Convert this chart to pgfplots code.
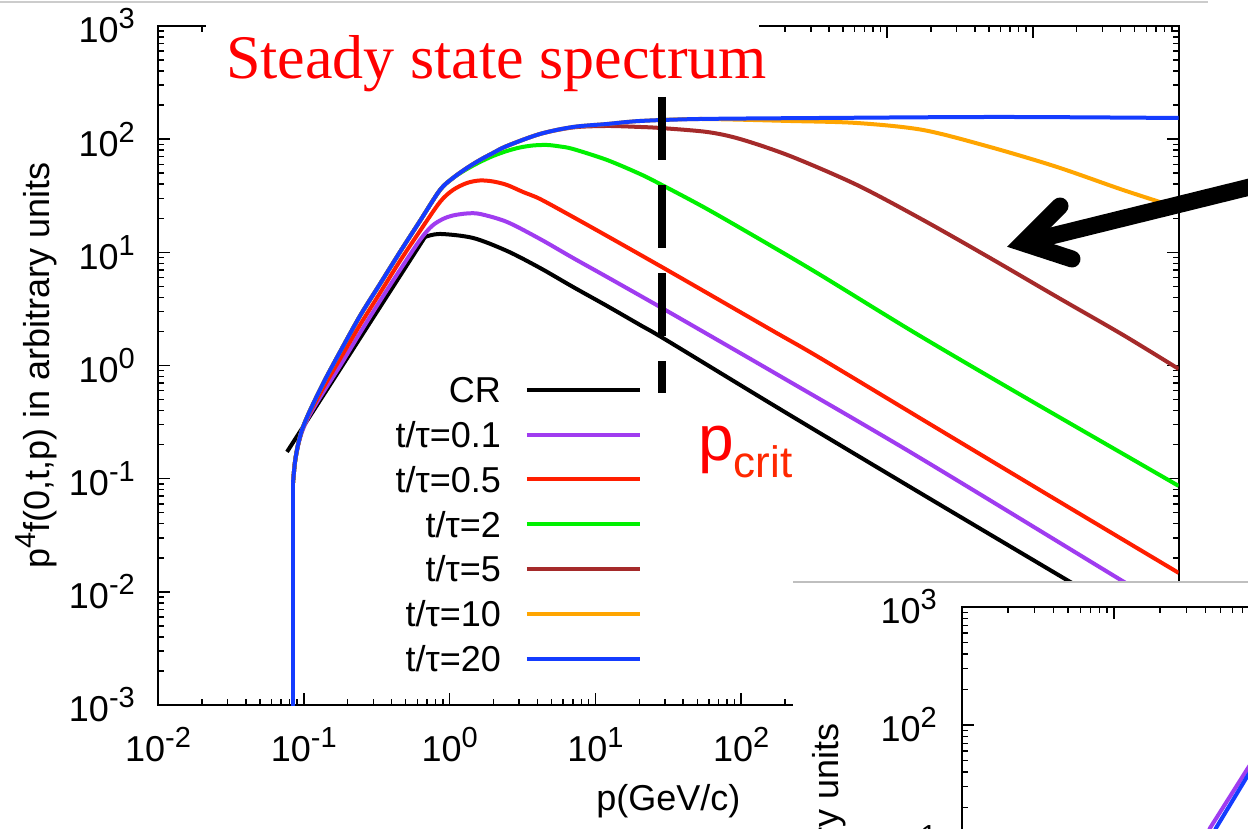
\documentclass[border=0pt]{standalone}
\usepackage{pgfplots}
\pgfplotsset{compat=1.18}
\usepackage{fontspec}
\setmainfont{Liberation Sans}
\newfontfamily\titlefont{Liberation Serif}
\definecolor{cpurple}{RGB}{160,60,240}
\definecolor{cred}{RGB}{255,30,0}
\definecolor{cgreen}{RGB}{0,240,0}
\definecolor{cbrown}{RGB}{165,42,42}
\definecolor{corange}{RGB}{255,165,0}
\definecolor{cblue}{RGB}{20,60,255}
\definecolor{critred}{RGB}{255,40,0}
\newcommand{\tl}[1]{10\raisebox{14pt}{\fontsize{29}{29}\selectfont #1}}
\newcommand{\ylab}{p\raisebox{14pt}{\fontsize{29}{29}\selectfont 4}f(0,t,p) in arbitrary units}
\begin{document}
\begin{tikzpicture}[x=1pt,y=1pt]
\fill[white, use as bounding box] (0,0) rectangle (1248,-828);
\draw[black!20, line width=2pt] (0,-2) -- (1208,-2);
\begin{axis}[
  at={(158pt,-705pt)}, anchor=south west,
  scale only axis, width=1020.6pt, height=679pt,
  xmode=log, ymode=log, xmin=0.01, xmax=1e5, ymin=1e-3, ymax=1e3,
  axis line style={line width=1.8pt},
  every tick/.style={black, line width=1.5pt},
  major tick length=12pt, minor tick length=6pt,
  tick align=inside,
  xtick={1e-2,1e-1,1,10,100,1000,1e4,1e5},
  xticklabels={\tl{-2},\tl{-1},\tl{0},\tl{1},\tl{2},{},{},{}},
  ytick={1e-3,1e-2,1e-1,1,10,100,1000},
  yticklabels={\tl{-3},\tl{-2},\tl{-1},\tl{0},\tl{1},\tl{2},\tl{3}},
  tick label style={font=\fontsize{36}{36}\selectfont, inner sep=0pt},
  xticklabel style={anchor=north, yshift=-22pt},
  yticklabel style={anchor=east, xshift=-23pt},
  every axis x label/.style={at={([yshift=-105pt]rel axis cs:0.5,0)}, anchor=base, inner sep=0pt, font=\fontsize{36}{36}\selectfont},
  every axis y label/.style={at={([xshift=-108pt]rel axis cs:0,0.5)}, rotate=90, anchor=base, inner sep=0pt, font=\fontsize{36}{36}\selectfont},
  xlabel={p(GeV/c)},
  ylabel={\ylab},
  legend style={draw=none, fill=none, at={(rel axis cs:0.4742,0.4834)}, anchor=north east,
    inner sep=0pt, outer sep=0pt, row sep=18.8pt, column sep=24pt,
    font=\fontsize{36}{36}\selectfont,
    nodes={inner sep=0pt, text height=26pt, text depth=0pt}},
  legend cell align=right, legend plot pos=right,
  legend image code/.code={\draw[#1, line width=4pt] (0pt,0pt) -- (113pt,0pt);},
  every axis plot/.append style={line width=4pt, line join=round},
]
% CR
\addplot[black, forget plot] coordinates {(0.07671,0.1725) (0.6780,13.68)};
\addplot[black, smooth, tension=0.5] coordinates {(0.6780,13.68) (0.8593,14.54) (1.4473,13.40) (2.4756,10.29) (4.1689,7.282) (7.0210,4.946) (12.011,3.362) (20.226,2.284) (30.500,1.684) (178.8,0.4220) (1556,0.07963) (17997,0.01226) (100000,0.003333)};
\addlegendentry{CR}
% t/tau = 0.1
\addplot[cpurple, forget plot] coordinates {(0.08432,0.0009) (0.08432,0.09182)};
\addplot[cpurple, smooth, tension=0.5] coordinates {(0.08432,0.09182) (0.08703,0.1407) (0.09125,0.1949) (0.09719,0.2591) (0.1069,0.3444) (0.1213,0.4578) (0.1420,0.6342) (0.1772,0.9919) (0.2429,1.941) (0.3332,3.722) (0.4568,6.992) (0.6265,12.87) (0.7574,17.11) (0.9011,19.73) (1.0552,21.18) (1.3161,22.06) (1.6163,21.84) (2.4756,18.56) (4.1689,13.13) (7.0210,8.924) (12.011,6.063) (27.740,3.294) (58.28,1.902) (178.8,0.8260) (1556,0.1623) (39009,0.01302) (100000,0.006264)};
\addlegendentry{t/τ=0.1}
% t/tau = 0.5
\addplot[cred, forget plot] coordinates {(0.08432,0.0009) (0.08432,0.09182)};
\addplot[cred, smooth, tension=0.5] coordinates {(0.08432,0.09182) (0.08703,0.1407) (0.09125,0.1989) (0.09719,0.2698) (0.1069,0.3587) (0.1213,0.4867) (0.1420,0.7021) (0.1772,1.144) (0.2429,2.284) (0.3332,4.379) (0.4568,8.396) (0.6265,15.46) (0.8593,27.87) (1.0552,35.58) (1.3161,41.03) (1.6163,43.17) (1.9848,42.30) (2.4756,39.39) (3.1869,34.16) (4.1689,29.63) (7.0210,20.55) (12.011,13.96) (27.740,7.584) (58.28,4.379) (165.2,2.021) (347.1,1.167) (2068,0.2926) (13757,0.06767) (100000,0.01472)};
\addlegendentry{t/τ=0.5}
% t/tau = 2
\addplot[cgreen, forget plot] coordinates {(0.08432,0.0009) (0.08432,0.09182)};
\addplot[cgreen, smooth, tension=0.5] coordinates {(0.08432,0.09182) (0.08703,0.1407) (0.09125,0.1989) (0.09719,0.2698) (0.1069,0.3661) (0.1213,0.5174) (0.1420,0.7772) (0.1772,1.318) (0.2429,2.743) (0.3332,5.258) (0.4568,10.08) (0.6265,18.94) (0.8593,35.58) (1.0552,45.42) (1.3161,54.56) (1.6163,62.88) (1.9848,71.05) (2.4756,78.68) (3.039,84.47) (3.7334,87.98) (4.657,88.88) (5.7183,86.21) (7.0210,81.93) (12.011,65.52) (20.226,49.27) (27.740,40.20) (58.28,24.17) (165.2,11.16) (358.2,6.188) (1556,1.941) (8042,0.5614) (100000,0.08637)};
\addlegendentry{t/τ=2}
% t/tau = 5
\addplot[cbrown, forget plot] coordinates {(0.08432,0.0009) (0.08432,0.09182)};
\addplot[cbrown, smooth, tension=0.5] coordinates {(0.08432,0.09182) (0.08703,0.1407) (0.09125,0.1989) (0.09719,0.2698) (0.1069,0.3661) (0.1213,0.5174) (0.1420,0.7772) (0.1772,1.318) (0.2429,2.743) (0.3332,5.258) (0.4568,10.08) (0.6265,18.94) (0.8593,35.58) (1.0552,45.42) (1.3161,55.68) (1.6163,65.52) (1.9848,75.50) (2.4756,87.10) (4.1689,111.2) (7.0210,127.0) (12.011,130.8) (20.226,128.2) (27.740,125.6) (58.28,115.8) (98.12,100.4) (216.1,71.05) (622.6,39.39) (1766,19.33) (5087,8.924) (14656,4.036) (41551,1.864) (100000,0.9332)};
\addlegendentry{t/τ=5}
% t/tau = 10
\addplot[corange, forget plot] coordinates {(0.08432,0.0009) (0.08432,0.09182)};
\addplot[corange, smooth, tension=0.5] coordinates {(0.08432,0.09182) (0.08703,0.1407) (0.09125,0.1989) (0.09719,0.2698) (0.1069,0.3661) (0.1213,0.5174) (0.1420,0.7772) (0.1772,1.318) (0.2429,2.743) (0.3332,5.258) (0.4568,10.08) (0.6265,18.94) (0.8593,35.58) (1.0552,45.42) (1.3161,55.68) (1.6163,65.52) (1.9848,75.50) (2.4756,87.10) (4.1689,111.2) (7.0210,128.2) (12.011,136.2) (20.226,144.8) (52.18,150.8) (216.1,144.8) (622.6,139.0) (1766,120.6) (5087,85.31) (14656,56.82) (41551,35.58) (100000,24.67)};
\addlegendentry{t/τ=10}
% t/tau = 20
\addplot[cblue, forget plot] coordinates {(0.08432,0.0009) (0.08432,0.09182)};
\addplot[cblue, smooth, tension=0.5] coordinates {(0.08432,0.09182) (0.08703,0.1407) (0.09125,0.1989) (0.09719,0.2698) (0.1069,0.3661) (0.1213,0.5174) (0.1420,0.7772) (0.1772,1.318) (0.2429,2.743) (0.3332,5.258) (0.4568,10.08) (0.6265,18.94) (0.8593,35.58) (1.0552,45.42) (1.3161,55.68) (1.6163,65.52) (1.9848,75.50) (2.4756,87.10) (4.1689,111.2) (7.0210,128.2) (12.011,136.2) (20.226,144.8) (52.18,150.8) (347.1,153.9) (5957,157.1) (100000,153.9)};
\addlegendentry{t/τ=20}
\addplot[black, line width=8pt, dash pattern=on 63pt off 25pt, line cap=butt, forget plot] coordinates {(28.63,235.9) (28.63,0.5729)};
\end{axis}
% title box
\fill[white] (206,-6) rectangle (759,-92);
\node[anchor=base west, inner sep=0pt, text=red, font=\titlefont\fontsize{62}{62}\selectfont] at (226,-78) {Steady state spectrum};
\node[anchor=base west, inner sep=0pt, text=red] at (698,-460) {\fontsize{64}{64}\selectfont p\raisebox{-17pt}{\fontsize{44}{44}\selectfont\color{critred}crit}};
% arrow
\draw[line width=17pt] (1270,-182) -- (1023,-243);
\draw[line width=17pt, line cap=round, miter limit=10] (1060,-206) -- (1023,-243) -- (1072,-259);
% inset
\fill[white] (793,-582) rectangle (1260,-840);
\draw[black!25, line width=1.5pt] (793,-582) -- (1248,-582);
\begin{axis}[
  at={(962pt,-607pt)}, anchor=north west,
  scale only axis, width=608pt, height=708pt,
  xmode=log, ymode=log, xmin=0.01, xmax=100, ymin=1e-3, ymax=1e3,
  axis line style={line width=1.8pt},
  every tick/.style={black, line width=1.5pt},
  major tick length=12pt, minor tick length=6pt,
  tick align=inside,
  xtick={1e-2,1e-1,1,10,100},
  xticklabels={},
  ytick={1e-3,1e-2,1e-1,1,10,100,1000},
  yticklabels={{},{},{},{},\tl{1},\tl{2},\tl{3}},
  tick label style={font=\fontsize{36}{36}\selectfont, inner sep=0pt},
  yticklabel style={anchor=east, xshift=-25pt},
  every axis y label/.style={at={([xshift=-124pt,yshift=-116pt]rel axis cs:0,1)}, rotate=90, anchor=base east, inner sep=0pt, font=\fontsize{36}{36}\selectfont},
  ylabel={\ylab},
  every axis plot/.append style={line width=4pt, line join=round},
]
\addplot[cpurple] coordinates {(0.2716,3.29) (0.4285,13.4) (0.762,43.3) (1.236,110)};
\addplot[cblue] coordinates {(0.293,3.29) (0.469,13.4) (0.762,37.7) (1.3,100)};
\end{axis}
\end{tikzpicture}
\end{document}
